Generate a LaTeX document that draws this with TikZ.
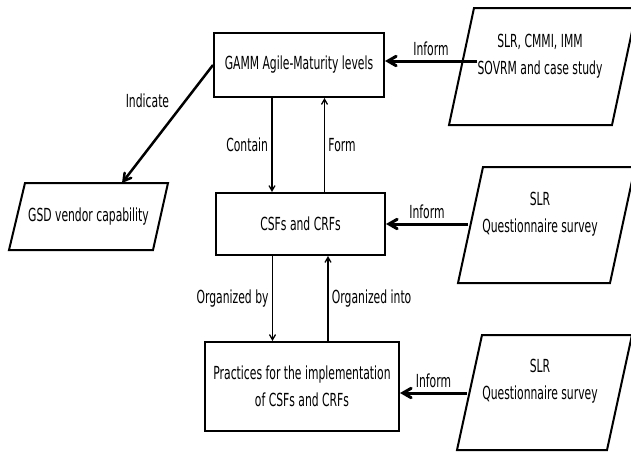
\documentclass[tikz,border=0pt]{standalone}
\usepackage{fontspec}
\setmainfont[FakeStretch=0.6]{DejaVu Sans}
\usetikzlibrary{positioning}
\usetikzlibrary{arrows}

\begin{document}
\begin{tikzpicture}[x=1pt,y=-1pt,>=angle 60,thick,
	font=\fontsize{18}{27}\selectfont,
	level box/.style={rectangle,draw,line width=2pt,inner sep=0pt,align=center},
	source/.style={draw,line width=2pt},
	inform/.style={->,line width=3pt},
	flow/.style={->,line width=1.3pt}]
	\useasboundingbox (0,0) rectangle (631,455);
	
	\node[level box,minimum width=170pt,minimum height=64pt] (gamm) at (299,65) {GAMM Agile-Maturity levels};
	\node[level box,minimum width=169pt,minimum height=62pt] (csfs) at (300.5,224) {CSFs and CRFs};
	\node[level box,minimum width=194pt,minimum height=89pt] (prac) at (302,386.5) {Practices for the implementation\\of CSFs and CRFs};
	
	% parallelograms
	\draw[source] (9,250) -- (25,183) -- (168,183) -- (153,250) -- cycle;
	\draw[source] (449,125) -- (474,8) -- (637,8) -- (612,125) -- cycle;
	\draw[source] (458,283) -- (483,167) -- (635,167) -- (610,283) -- cycle;
	\draw[source] (457,450) -- (482,335) -- (632,335) -- (607,450) -- cycle;
	\node (gsd) at (88.5,217) {GSD vendor capability};
	\node[align=center] (src1) at (540,56) {SLR, CMMI, IMM\\SOVRM and case study};
	\node[align=center] (src2) at (540,214) {SLR\\Questionnaire survey};
	\node[align=center] (src3) at (540,381.5) {SLR\\Questionnaire survey};
	\coordinate (gsd top) at (122,183);
	\coordinate (src1 in) at (477,61);
	\coordinate (src2 in) at (468,224);
	\coordinate (src3 in) at (467,393);
	
	\draw[inform] (src1 in) -- (src1 in -| gamm.east) node[midway,above] {Inform};
	\draw[inform] (src2 in) -- (src2 in -| csfs.east) node[midway,above] {Inform};
	\draw[inform] (src3 in) -- (src3 in -| prac.east) node[midway,above] {Inform};
	
	\draw[flow] ([xshift=-27pt]gamm.south) -- ([xshift=-27pt]gamm.south |- csfs.north) node[midway,left] {Contain};
	\draw[flow] ([xshift=24pt]csfs.north) -- ([xshift=24pt]csfs.north |- gamm.south) node[midway,right] {Form};
	\draw[flow] ([xshift=-28pt]csfs.south) -- ([xshift=-28pt]csfs.south |- prac.north) node[midway,left] {Organized by};
	\draw[flow] ([xshift=26pt]prac.north) -- ([xshift=26pt]prac.north |- csfs.south) node[midway,right] {Organized into};
	
	\draw[->,line width=2.5pt] (gamm.west) -- (gsd top) node[pos=0.3,left=12pt] {Indicate};
\end{tikzpicture}
\end{document}
